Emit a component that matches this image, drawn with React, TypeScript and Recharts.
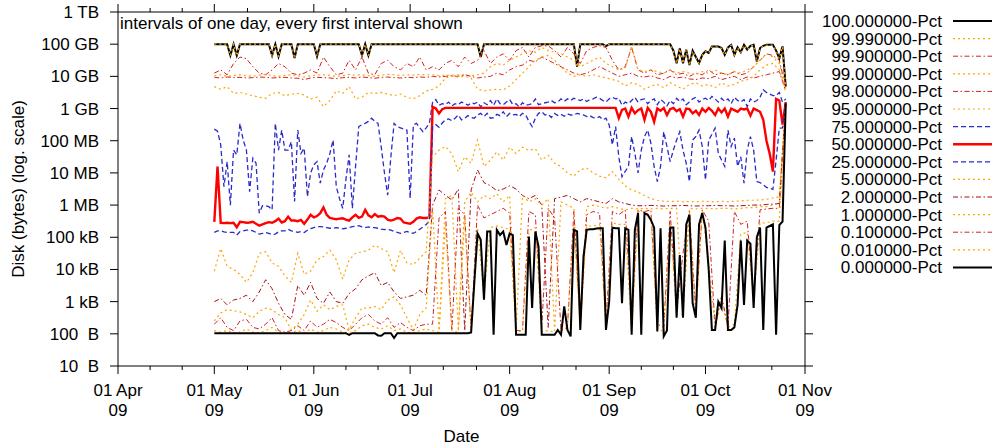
import React from 'react';
import { LineChart, Line, XAxis, YAxis } from 'recharts';

// ---- axis data ----
const firstDay = 30; // 01 May 09, counted in days after 01 Apr 09
const xMajorDays = [0, 30, 61, 91, 122, 153, 183, 214];
const xMajorLabels = ['01 Apr', '01 May', '01 Jun', '01 Jul', '01 Aug', '01 Sep', '01 Oct', '01 Nov'];
const xYearLabel = '09';
const yTickValues = [1e1, 1e2, 1e3, 1e4, 1e5, 1e6, 1e7, 1e8, 1e9, 1e10, 1e11, 1e12];
const yTickLabels = ['10  B', '100  B', '1 kB', '10 kB', '100 kB', '1 MB', '10 MB', '100 MB', '1 GB', '10 GB', '100 GB', '1 TB'];
const titleText = 'intervals of one day, every first interval shown';
const xTitle = 'Date';
const yTitle = 'Disk (bytes) (log. scale)';

// ---- series values: log10(bytes); daily series start 01 May, 2-day series every second day ----
const p100 = [
  11,11,11,11,11,10.65,11,10.65,11,11,
  11,11,11,11,11,11,11,11,10.65,11,
  10.62,11,11,11,11,10.57,11,11,11,11,
  11,11,10.62,11,11,11,11,11,11,11,
  11,11,11,11,11,11,10.65,11,10.65,11,
  11,11,11,11,11,11,11,11,11,11,
  11,11,11,11,11,11,11,11,11,11,
  11,11,11,11,11,11,11,11,11,11,
  11,11,11,10.6,11,11,11,11,11,11,
  11,11,11,11,11,11,11,11,11,11,
  11,11,11,11,11,11,11,11,11,11,
  11,11,11,10.3,11,11,11,11,11,11,
  11,11,10.94,11,11,11,11,11,11,11,
  11,11,11,11,11,11,11,11,11,11,
  11,11,11,10.8,10.41,10.87,10.41,10.83,10.35,10.8,
  10.6,10.41,10.67,10.78,10.73,10.93,10.93,10.93,10.88,10.67,
  10.9,10.98,10.67,10.9,10.75,10.98,10.83,10.95,10.98,10.46,
  10.88,10.95,10.98,10.98,10.98,10.8,10.56,10.93,9.68,
];
const p9999 = [
  11,11,11,11,11,10.64,11,10.64,11,11,
  11,11,11,11,11,11,11,11,10.64,11,
  10.61,11,11,11,11,10.56,11,11,11,11,
  11,11,10.61,11,11,11,11,11,11,11,
  11,11,11,11,11,11,10.64,11,10.64,11,
  11,11,11,11,11,11,11,11,11,11,
  11,11,11,11,11,11,11,11,11,11,
  11,11,11,11,11,11,11,11,11,11,
  11,11,11,10.59,11,11,11,11,11,11,
  11,11,11,11,11,11,11,11,11,11,
  11,11,11,11,11,11,11,11,11,11,
  11,11,11,10.29,11,11,11,11,11,11,
  11,11,10.93,11,11,11,11,11,11,11,
  11,11,11,11,11,11,11,11,11,11,
  11,11,11,10.79,10.4,10.86,10.4,10.82,10.34,10.79,
  10.59,10.4,10.66,10.77,10.72,10.92,10.92,10.92,10.87,10.66,
  10.89,10.97,10.66,10.89,10.74,10.97,10.82,10.94,10.97,10.45,
  10.87,10.94,10.97,10.97,10.97,10.79,10.55,10.92,9.67,
];
const p999 = [
  10.1,10.2,10.05,10.4,10.6,10.55,10.3,10.1,10.05,10.2,10.4,10.3,10.1,10.05,10.1,10.2,10.1,
  10.6,10.3,10.05,10.1,10.5,10.2,10.6,10.1,10.05,10.4,10.5,10.3,10.2,10.4,10.3,10.6,10.2,
  10.3,10.2,10.4,10.5,10.3,10.6,10.4,10.5,10.8,10.4,10.6,10.7,10.5,10.8,10.9,10.6,10.9,10.95,
  10.95,10.8,10.6,10.9,10.7,10.4,10.8,10.9,10.95,10.9,10.5,10.2,10.3,10.9,10.2,10.1,10.2,10.05,
  10.1,10.2,10.05,10.1,10.0,10.1,10.05,10.2,10.05,10.1,10.05,10.15,10.05,10.1,10.3,10.5,10.7,
  10.65,10.5,9.65,
];
const p99 = [
  10.02,10.05,10.0,10.03,10.05,10.02,10.0,10.04,10.06,10.02,10.0,10.03,10.05,10.02,9.98,10.02,10.04,
  10.05,10.03,10.0,10.02,10.06,10.04,10.05,10.02,10.0,10.04,10.06,10.05,10.03,10.05,10.04,10.06,10.05,
  10.05,10.02,10.04,10.03,10.05,10.04,10.02,10.05,10.1,10.3,10.4,10.35,10.5,10.6,10.7,10.8,10.75,10.9,
  10.8,10.75,10.7,10.6,10.5,10.3,10.4,10.5,10.6,10.4,10.3,10.2,10.25,10.95,10.2,10.15,10.2,10.15,
  10.1,10.2,10.1,10.15,10.1,10.05,10.15,10.1,10.2,10.1,10.05,10.15,10.1,10.2,10.3,10.5,10.7,
  10.6,10.4,9.6,
];
const p98 = [
  9.97,9.95,9.98,9.96,9.97,9.95,9.96,9.98,9.97,9.95,9.96,9.97,9.95,9.94,9.9,9.95,9.97,
  9.96,9.95,9.93,9.96,9.97,9.95,9.98,9.96,9.94,9.97,9.98,9.96,9.95,9.97,9.96,9.98,9.97,
  10.0,9.98,10.0,10.02,10.0,10.05,10.0,9.95,9.98,10.0,10.1,10.05,10.2,10.3,10.35,10.5,10.45,10.6,
  10.5,10.4,10.3,10.2,10.1,10.05,10.1,10.2,10.3,10.2,10.1,10.0,10.05,10.1,10.0,9.98,10.02,9.95,
  9.9,10.0,9.95,9.98,9.92,9.9,9.95,9.93,10.0,9.9,9.95,10.0,9.9,9.98,9.95,10.0,10.05,
  10.1,10.15,9.55,
];
const p95 = [
  9.68,9.6,9.68,9.47,9.5,9.45,9.4,9.35,9.32,9.47,9.5,9.4,9.45,9.47,9.42,9.3,9.35,
  9.06,9.25,9.55,9.47,9.68,9.3,9.35,9.5,9.47,9.5,9.45,9.4,9.45,9.35,9.3,9.4,9.55,
  9.6,9.7,9.95,10.0,9.98,10.0,9.95,9.6,9.55,9.58,9.6,9.58,9.7,9.9,10.1,10.3,10.5,10.6,
  10.65,10.5,10.3,10.1,10.0,10.05,10.0,10.05,10.0,9.95,9.9,9.85,9.7,9.8,9.75,9.6,9.7,9.75,
  9.65,9.8,9.7,9.6,9.75,9.8,9.7,9.75,9.65,9.8,9.7,9.75,9.85,9.9,10.0,10.2,10.35,
  10.4,10.2,9.5,
];
const p75 = [
  8.36,8.3,7.87,6.57,7.35,6.0,7.71,7.56,8.54,8.02,
  7.71,6.42,7.46,7.3,5.75,5.98,5.98,5.95,5.85,8.54,
  7.71,8.33,7.71,7.71,7.97,6.11,8.33,7.61,7.77,6.26,
  7.0,7.25,7.35,6.68,7.09,7.3,7.6,8.02,6.57,6.2,
  5.9,6.8,7.56,5.9,7.2,8.44,8.5,8.54,8.6,8.7,
  8.6,8.54,7.8,7.0,6.31,7.5,8.54,8.44,8.4,8.36,
  8.33,6.21,8.49,8.54,8.4,8.28,8.4,8.54,
  9.2,9.28,9.1,9.15,9.12,9.2,9.08,9.15,9.12,9.2,
  9.16,9.1,9.18,9.15,9.2,9.05,9.18,9.12,9.25,9.1,
  9.3,9.15,9.12,9.2,9.28,9.12,9.15,9.05,9.18,9.1,
  9.12,9.15,9.3,9.12,9.15,9.18,9.2,9.25,9.18,9.2,
  9.3,9.22,9.3,9.25,9.32,9.28,9.25,9.3,9.22,9.28,
  9.3,9.35,9.32,9.25,9.2,9.3,9.35,9.3,9.32,9.1,
  9.2,9.15,9.25,9.35,9.2,9.28,9.3,9.15,9.25,9.3,
  9.12,9.28,9.2,9.08,9.25,9.15,9.32,9.22,9.3,9.12,
  9.2,9.3,9.35,9.2,9.28,9.32,9.25,9.38,9.3,9.2,
  9.32,9.22,9.3,9.15,9.35,9.25,9.2,9.28,9.06,9.3,
  9.2,9.25,9.35,9.58,9.5,9.45,9.4,9.4,9.5,9.2,
  9.3,
];
const p50 = [
  5.48,7.2,5.45,5.44,5.45,5.44,5.45,5.31,5.48,5.47,
  5.45,5.46,5.48,5.42,5.36,5.4,5.44,5.47,5.45,5.5,
  5.58,5.46,5.5,5.64,5.52,5.52,5.5,5.54,5.42,5.55,
  5.7,5.62,5.66,5.75,5.93,5.7,5.6,5.58,5.56,5.58,
  5.59,5.55,5.52,5.62,5.7,5.6,5.64,5.85,5.68,5.62,
  5.72,5.64,5.66,5.64,5.55,5.52,5.55,5.6,5.58,5.46,
  5.44,5.42,5.48,5.58,5.62,5.6,5.6,5.62,
  9.05,9.0,8.85,8.98,9.02,9.02,9.02,9.02,9.02,9.02,
  9.02,9.02,9.02,9.02,9.02,9.02,9.02,9.02,9.02,9.02,
  9.02,9.02,9.02,9.02,9.02,9.02,9.02,9.02,9.02,9.02,
  9.02,9.02,9.02,9.02,9.02,9.02,9.02,9.02,9.02,9.02,
  9.02,9.02,9.02,9.02,9.02,9.02,9.02,9.02,9.02,9.02,
  9.02,9.02,9.02,9.02,9.02,9.02,9.02,
  9.02,8.7,8.96,9.0,8.75,9.02,8.85,8.95,9.0,8.65,
  9.02,8.9,8.59,9.0,8.93,9.02,8.8,8.98,9.02,8.92,
  8.98,8.75,9.0,8.98,8.85,8.93,8.8,9.0,8.9,9.02,
  8.93,8.8,9.0,8.88,9.0,8.75,9.0,8.95,8.9,9.0,
  8.97,9.0,8.78,9.0,8.95,8.9,8.65,8.0,7.6,7.04,
  9.3,9.25,8.5,9.2,
];
const p25 = [
  5.15,5.2,5.2,5.17,5.15,5.15,5.15,5.07,5.18,5.2,
  5.22,5.22,5.2,5.15,5.1,5.12,5.15,5.12,5.08,5.1,
  5.17,5.2,5.2,5.25,5.2,5.18,5.15,5.18,5.15,5.22,
  5.27,5.3,5.33,5.33,5.32,5.3,5.28,5.28,5.3,5.28,
  5.26,5.28,5.3,5.33,5.34,5.36,5.32,5.3,5.32,5.3,
  5.3,5.28,5.25,5.24,5.25,5.22,5.18,5.15,5.12,5.15,
  5.18,5.15,5.12,5.18,5.25,5.32,5.4,5.5,
  8.44,8.5,8.42,8.55,8.65,8.68,8.62,8.7,8.8,8.65,
  8.7,8.78,8.72,8.7,8.8,8.85,8.75,8.85,8.7,8.72,
  8.82,8.78,8.9,8.75,8.85,8.8,8.82,8.75,8.85,8.8,
  8.6,8.44,8.7,8.85,8.9,8.8,8.82,8.72,8.85,8.78,
  8.82,8.76,8.84,8.8,8.8,8.85,8.82,8.8,8.75,8.78,
  8.72,8.7,8.75,8.65,8.7,
  8.49,7.87,8.44,7.5,6.88,7.05,7.2,8.13,7.61,7.0,
  7.71,8.13,8.33,7.92,7.2,6.73,7.2,8.28,7.82,7.35,
  7.71,8.02,8.28,7.71,7.3,6.73,8.02,8.13,8.33,7.82,
  6.78,8.02,8.2,8.39,7.61,7.4,7.2,8.33,7.82,8.08,
  7.2,7.5,6.68,7.71,8.13,7.71,6.73,6.7,6.63,6.55,
  6.52,6.49,7.4,8.39,8.4,9.2,
];
const p5 = [
  3.95,4.65,4.1,4.0,3.85,3.6,3.9,4.5,4.55,4.2,4.1,3.8,3.6,4.5,3.85,3.95,4.3,
  4.4,4.6,4.3,3.7,4.3,4.5,4.55,4.6,4.75,4.65,4.55,3.9,4.6,4.2,4.15,4.35,4.55,
  7.5,7.71,7.82,7.6,7.04,7.5,7.3,8.02,7.2,7.4,7.65,7.4,7.8,7.6,7.8,7.7,7.75,7.4,
  7.55,7.3,7.2,7.0,6.9,7.1,7.15,7.0,6.9,6.85,7.04,6.8,6.6,6.47,6.4,6.3,6.2,6.15,
  6.12,6.11,6.12,6.1,6.11,6.1,6.12,6.11,6.1,6.12,6.11,6.12,6.13,6.15,6.15,6.16,6.18,
  6.22,6.26,9.2,
];
const p2 = [
  3.0,3.1,2.9,3.05,3.1,3.2,3.0,3.3,3.68,3.4,2.95,2.6,2.45,3.5,3.2,3.6,3.1,
  2.95,3.3,3.0,2.95,3.25,3.4,3.68,3.8,3.9,3.5,3.6,3.3,3.1,3.15,3.2,3.35,3.2,
  6.0,6.47,6.3,6.16,6.5,2.1,6.47,7.09,6.7,6.6,6.45,6.5,6.6,6.5,6.3,6.2,6.3,6.0,
  2.2,6.2,6.25,6.3,6.2,6.1,6.2,6.15,6.1,6.05,6.2,6.1,6.05,6.0,5.98,5.98,5.99,5.98,
  5.97,5.98,5.98,5.99,5.98,5.97,5.98,5.98,5.99,5.98,5.98,5.97,5.98,5.99,6.0,6.0,6.02,
  6.03,6.05,9.2,
];
const p1 = [
  2.4,2.65,2.75,2.72,2.68,2.6,2.5,2.7,2.8,2.75,2.6,2.5,2.12,2.3,2.6,3.05,2.7,
  2.9,2.75,2.85,2.9,2.12,2.5,2.8,2.8,2.85,2.75,3.05,3.15,2.9,2.5,2.12,2.6,2.8,
  5.9,2.1,6.2,6.3,2.1,6.1,6.4,6.1,6.3,6.2,6.35,6.1,6.3,2.1,6.3,6.1,6.2,6.0,
  6.2,2.1,6.1,6.0,5.9,2.2,5.95,6.0,5.95,5.9,5.95,5.9,5.85,5.9,5.88,5.9,5.88,5.9,
  5.88,5.9,5.9,2.6,5.9,5.88,5.9,5.9,5.88,5.9,5.9,5.88,5.9,5.92,5.92,5.95,5.95,
  6.0,6.05,9.18,
];
const p01 = [
  2.3,2.5,2.2,2.1,2.4,2.45,2.2,2.15,2.3,2.5,2.1,2.05,2.1,2.25,2.1,2.4,2.2,
  2.3,2.45,2.35,2.2,2.1,2.3,2.5,2.6,2.4,2.3,2.5,2.2,2.35,2.2,2.1,2.25,2.3,
  2.3,5.6,5.8,2.1,5.9,5.7,2.1,6.0,5.6,5.7,5.8,5.9,5.75,2.1,2.1,5.8,5.7,2.2,
  5.9,5.6,2.1,2.2,5.8,2.3,5.7,5.8,5.75,2.3,5.8,5.7,5.85,2.5,5.85,5.8,5.85,2.3,
  2.2,5.8,2.7,4.5,5.8,2.6,5.85,5.5,2.2,3.2,2.2,5.8,5.4,5.5,3.1,5.85,5.88,
  5.9,5.9,9.17,
];
const p001 = [
  2.1,2.05,2.1,2.03,2.05,2.15,2.05,2.03,2.1,2.2,2.05,2.02,2.03,2.1,2.03,2.15,2.05,
  2.1,2.2,2.15,2.05,2.03,2.1,2.25,2.3,2.2,2.15,2.25,2.1,2.15,2.05,2.03,2.1,2.15,
  2.1,2.05,5.4,2.1,2.05,5.6,2.1,5.3,3.2,5.3,5.35,5.3,5.25,2.05,2.1,5.2,5.3,2.05,
  2.1,2.05,2.1,2.2,5.35,2.2,5.35,5.35,5.4,2.2,5.45,5.4,5.4,2.05,5.8,5.78,5.65,2.2,
  2.05,5.45,2.6,2.6,5.78,2.6,5.8,4.2,2.2,3.0,2.2,2.3,5.1,5.15,3.0,5.45,5.45,
  5.5,5.5,9.17,
];
const p0 = [
  2.02,2.02,2.02,2.02,2.02,2.02,2.02,2.02,2.02,2.02,
  2.02,2.02,2.02,2.02,2.02,2.02,2.02,2.02,2.02,2.02,
  2.02,2.02,2.02,2.02,2.02,2.02,2.02,2.02,2.02,2.02,
  2.02,2.02,2.02,2.02,2.02,2.02,2.02,2.02,2.02,2.02,
  2.02,2.02,1.97,2.02,2.02,2.02,2.02,2.02,2.02,2.02,
  2.02,1.95,1.94,2.02,2.02,2.02,1.87,2.02,2.02,2.02,
  2.02,2.02,2.02,2.02,2.02,2.02,2.02,2.02,2.02,2.02,
  2.02,2.02,2.02,2.02,2.02,2.02,2.02,2.02,2.02,2.02,
  2.04,3.6,5.12,4.92,3.06,5.18,5.18,1.97,5.23,5.07,
  5.18,4.76,5.12,5.07,1.97,1.97,1.97,1.97,5.02,2.8,
  5.18,4.71,1.97,1.97,1.97,1.97,1.97,2.12,1.97,2.85,
  2.12,1.92,5.23,5.18,2.12,4.4,5.23,5.25,5.25,5.27,
  5.28,5.28,2.12,3.0,5.3,
  5.28,5.28,2.95,5.28,5.23,1.97,5.23,5.75,1.97,5.75,
  5.7,5.54,5.3,2.07,5.28,1.92,2.1,5.3,5.3,2.5,
  4.45,2.5,5.4,5.7,2.95,2.5,5.4,5.75,5.3,4.0,
  2.12,2.12,3.0,2.8,4.9,2.12,2.12,2.2,2.9,4.9,
  2.9,4.9,4.8,2.8,5.0,5.3,2.12,5.3,5.35,5.4,
  1.97,5.38,5.49,9.16,
];

const ORANGE = '#ffa500';
const RED = '#d42020';
const DARKRED = '#a80f0f';
const BLUE = '#2a2acc';
const DOT = '2 3';
const DASHDOT = '5 2.5 1.5 2.5';
const DASH = '5 3';

const series = [
  { key: 'p100', name: '100.000000-Pct', values: p100, step: 1, color: '#000', width: 2, dash: undefined },
  { key: 'p9999', name: '99.990000-Pct', values: p9999, step: 1, color: ORANGE, width: 1.2, dash: DOT },
  { key: 'p999', name: '99.900000-Pct', values: p999, step: 2, color: RED, width: 1, dash: DASHDOT },
  { key: 'p99', name: '99.000000-Pct', values: p99, step: 2, color: ORANGE, width: 1.2, dash: DOT },
  { key: 'p98', name: '98.000000-Pct', values: p98, step: 2, color: RED, width: 1, dash: DASHDOT },
  { key: 'p95', name: '95.000000-Pct', values: p95, step: 2, color: ORANGE, width: 1.2, dash: DOT },
  { key: 'p75', name: '75.000000-Pct', values: p75, step: 1, color: BLUE, width: 1.3, dash: DASH },
  { key: 'p50', name: '50.000000-Pct', values: p50, step: 1, color: '#ff0000', width: 2.4, dash: undefined },
  { key: 'p25', name: '25.000000-Pct', values: p25, step: 1, color: BLUE, width: 1.3, dash: DASH },
  { key: 'p5', name: '5.000000-Pct', values: p5, step: 2, color: ORANGE, width: 1.2, dash: DOT },
  { key: 'p2', name: '2.000000-Pct', values: p2, step: 2, color: DARKRED, width: 1, dash: DASHDOT },
  { key: 'p1', name: '1.000000-Pct', values: p1, step: 2, color: ORANGE, width: 1.2, dash: DOT },
  { key: 'p01', name: '0.100000-Pct', values: p01, step: 2, color: RED, width: 1, dash: DASHDOT },
  { key: 'p001', name: '0.010000-Pct', values: p001, step: 2, color: ORANGE, width: 1.2, dash: DOT },
  { key: 'p0', name: '0.000000-Pct', values: p0, step: 1, color: '#000', width: 2, dash: undefined },
];

const dayCount = p100.length;
const rows: any[] = Array.from({ length: dayCount }, (_, i) => ({ day: firstDay + i }));
series.forEach((s) => {
  s.values.forEach((v, j) => {
    const r = rows[j * s.step];
    if (r) r[s.key] = Math.pow(10, v);
  });
});

const xMinorDays: number[] = [];
for (let k = 0; k < xMajorDays.length - 1; k++) {
  const a = xMajorDays[k];
  const b = xMajorDays[k + 1];
  xMinorDays.push(a + (b - a) / 3, a + (2 * (b - a)) / 3);
}
const xAllTicks = [...xMajorDays, ...xMinorDays].sort((a, b) => a - b);

const FONT = '"Liberation Sans", Arial, Helvetica, sans-serif';
const FS = 17;

const BottomTick = (props: any) => {
  const { x, y, payload } = props;
  const idx = xMajorDays.indexOf(payload.value);
  const major = idx >= 0;
  return (
    <g>
      <line x1={x} x2={x} y1={y} y2={y + (major ? 8 : 4)} stroke="#000" strokeWidth={1} />
      {major && (
        <text x={x} y={y + 30} textAnchor="middle" fontSize={FS} fontFamily={FONT} fill="#000">
          {xMajorLabels[idx]}
        </text>
      )}
      {major && (
        <text x={x} y={y + 50} textAnchor="middle" fontSize={FS} fontFamily={FONT} fill="#000">
          {xYearLabel}
        </text>
      )}
    </g>
  );
};

const TopTick = (props: any) => {
  const { x, y, payload } = props;
  const major = xMajorDays.indexOf(payload.value) >= 0;
  return <line x1={x} x2={x} y1={y} y2={y - (major ? 8 : 4)} stroke="#000" strokeWidth={1} />;
};

const LeftTick = (props: any) => {
  const { x, y, payload } = props;
  const idx = Math.round(Math.log10(payload.value)) - 1;
  return (
    <g>
      <line x1={x - 8} x2={x} y1={y} y2={y} stroke="#000" strokeWidth={1} />
      <text
        x={x - 19}
        y={y + 6}
        textAnchor="end"
        fontSize={FS}
        fontFamily={FONT}
        fill="#000"
        style={{ whiteSpace: 'pre' }}
      >
        {yTickLabels[idx]}
      </text>
    </g>
  );
};

const RightTick = (props: any) => {
  const { x, y } = props;
  return <line x1={x} x2={x + 8} y1={y} y2={y} stroke="#000" strokeWidth={1} />;
};

const W = 997;
const H = 448;

export default function App() {
  return (
    <div style={{ position: 'absolute', left: 0, top: 0, width: W, height: H, background: '#fff' }}>
      <LineChart
        width={W}
        height={H}
        data={rows}
        margin={{ top: 7, right: 187, bottom: 52, left: 58 }}
      >
        <XAxis
          xAxisId="b"
          dataKey="day"
          type="number"
          domain={[0, 214]}
          ticks={xAllTicks}
          interval={0}
          tick={BottomTick}
          tickLine={false}
          tickSize={0}
          tickMargin={0}
          height={30}
          axisLine={{ stroke: '#000', strokeWidth: 1 }}
          allowDataOverflow
        />
        <XAxis
          xAxisId="t"
          orientation="top"
          dataKey="day"
          type="number"
          domain={[0, 214]}
          ticks={xAllTicks}
          interval={0}
          tick={TopTick}
          tickLine={false}
          tickSize={0}
          tickMargin={0}
          height={5}
          axisLine={{ stroke: '#000', strokeWidth: 1 }}
          allowDataOverflow
        />
        <YAxis
          yAxisId="l"
          type="number"
          scale="log"
          domain={[1e1, 1e12]}
          ticks={yTickValues}
          interval={0}
          tick={LeftTick}
          tickLine={false}
          tickSize={0}
          tickMargin={0}
          width={60}
          axisLine={{ stroke: '#000', strokeWidth: 1 }}
          allowDataOverflow
        />
        <YAxis
          yAxisId="r"
          orientation="right"
          type="number"
          scale="log"
          domain={[1e1, 1e12]}
          ticks={yTickValues}
          interval={0}
          tick={RightTick}
          tickLine={false}
          tickSize={0}
          tickMargin={0}
          width={5}
          axisLine={{ stroke: '#000', strokeWidth: 1 }}
          allowDataOverflow
        />
        {series.map((s) => (
          <Line
            key={s.key}
            xAxisId="b"
            yAxisId="l"
            type="linear"
            dataKey={s.key}
            name={s.name}
            stroke={s.color}
            strokeWidth={s.width}
            strokeDasharray={s.dash}
            dot={false}
            activeDot={false}
            connectNulls
            isAnimationActive={false}
          />
        ))}
      </LineChart>
      <svg
        width={W}
        height={H}
        style={{ position: 'absolute', left: 0, top: 0, pointerEvents: 'none' }}
        fontFamily={FONT}
        fontSize={FS}
      >
        <text x={120} y={29} fill="#000">{titleText}</text>
        <text x={461.5} y={442} textAnchor="middle" fill="#000">{xTitle}</text>
        <text x={24} y={189} textAnchor="middle" fill="#000" transform="rotate(-90 24 189)">{yTitle}</text>
        {series.map((s, k) => {
          const cy = 21 + 17.6 * k;
          return (
            <g key={s.key}>
              <text x={942} y={cy + 6} textAnchor="end" fill="#000">{s.name}</text>
              <line
                x1={953}
                x2={992}
                y1={cy}
                y2={cy}
                stroke={s.color}
                strokeWidth={s.width}
                strokeDasharray={s.dash}
              />
            </g>
          );
        })}
      </svg>
    </div>
  );
}
